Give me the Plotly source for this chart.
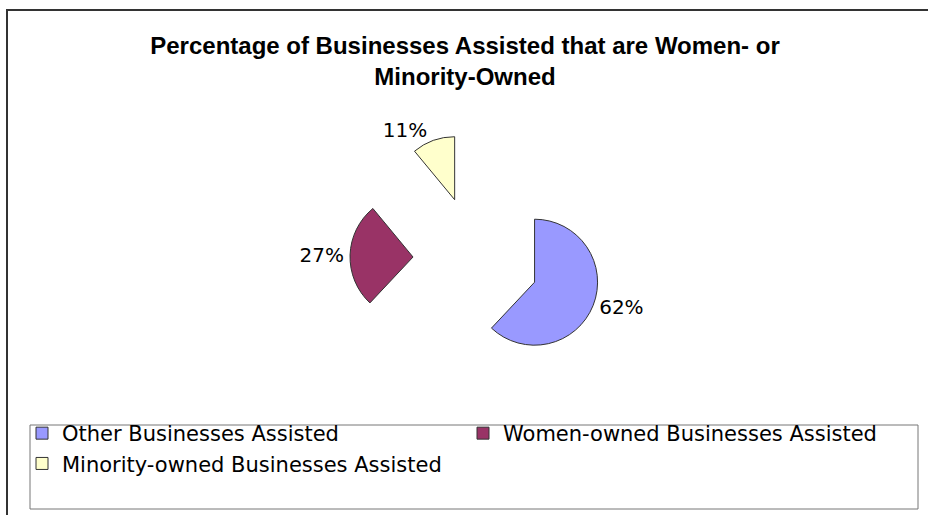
import plotly.graph_objects as go

title_text = "Percentage of Businesses Assisted that are Women- or<br>Minority-Owned"
labels = ["Other Businesses Assisted", "Women-owned Businesses Assisted", "Minority-owned Businesses Assisted"]
values = [62, 27, 11]
colors = ["#9999FF", "#993366", "#FFFFCC"]

W, H = 928, 515

def px(x):
    return x / W

def py(y):
    return 1 - y / H

# pie box: centre and half-size in px (radius = half / 2 with pull 1)
cx, cy, half = 476, 259, 126

fig = go.Figure()
fig.add_trace(go.Pie(
    labels=labels,
    values=values,
    sort=False,
    direction="clockwise",
    rotation=0,
    pull=[1, 1, 1],
    marker=dict(colors=colors, line=dict(color="#333333", width=1)),
    textinfo="percent",
    textposition="outside",
    textfont=dict(family="DejaVu Sans", size=20, color="#000000"),
    domain=dict(x=[px(cx - half), px(cx + half)], y=[py(cy + half), py(cy - half)]),
    hoverinfo="label+percent",
))

fig.update_layout(
    width=W,
    height=H,
    margin=dict(l=0, r=0, t=0, b=0, autoexpand=False),
    paper_bgcolor="#FFFFFF",
    plot_bgcolor="#FFFFFF",
    title=dict(
        text=title_text,
        x=px(465),
        xanchor="center",
        y=py(54),
        yanchor="middle",
        font=dict(family="Liberation Sans", size=24, color="#000000", weight="bold"),
    ),
    showlegend=True,
    legend=dict(
        orientation="h",
        x=px(22),
        xanchor="left",
        y=py(413),
        yanchor="top",
        entrywidth=396,
        entrywidthmode="pixels",
        font=dict(family="DejaVu Sans", size=21, color="#000000"),
        bgcolor="rgba(0,0,0,0)",
        borderwidth=0,
        traceorder="normal",
    ),
    shapes=[
        dict(type="rect", xref="paper", yref="paper",
             x0=px(7), x1=px(940), y0=py(530), y1=py(10),
             line=dict(color="#333333", width=2), fillcolor="rgba(0,0,0,0)", layer="below"),
        dict(type="rect", xref="paper", yref="paper",
             x0=px(30), x1=px(918), y0=py(509), y1=py(425),
             line=dict(color="#777777", width=1), fillcolor="rgba(0,0,0,0)", layer="below"),
    ],
)

fig.write_html("out.html")
